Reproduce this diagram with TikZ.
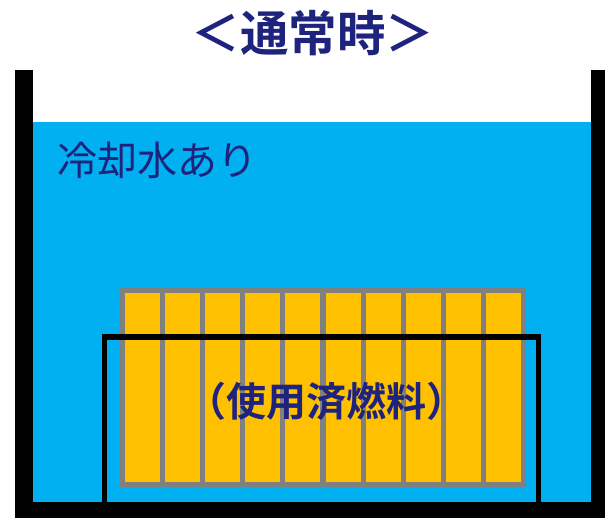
\documentclass[tikz,border=0pt]{standalone}
\usepackage{fontspec}
\setmainfont{Noto Sans CJK JP}
\newfontfamily\jpbold{Noto Sans CJK JP Bold}
\definecolor{water}{RGB}{0,176,240}
\definecolor{fuel}{RGB}{255,192,0}
\definecolor{rackgray}{RGB}{128,128,128}
\definecolor{navy}{RGB}{30,35,125}
\begin{document}
\begin{tikzpicture}[x=1pt,y=-1pt,
  label/.style={text=navy,inner sep=0pt,anchor=center},
  wall/.style={fill=black},
  cell/.style={fill=fuel}]
\useasboundingbox (0,0) rectangle (605,518);
% water
\fill[water] (33,122) rectangle (591,502);
% walls
\fill[wall] (15,70) rectangle (33,518);
\fill[wall] (591,70) rectangle (605,518);
\fill[wall] (15,502) rectangle (605,518);
% rack
\fill[rackgray] (120,288) rectangle (526,487);
\foreach \i in {0,...,9}{
  \fill[cell] ({125+40.1*\i},293) rectangle ({160+40.1*\i},482);
}
% basket frame
\draw[line width=5.5pt,line join=miter] (104.5,503) -- (104.5,337) -- (538.5,337) -- (538.5,503);
% texts
\node[label,font=\jpbold\fontsize{48.5}{52}\selectfont] (title) at (313,33) {＜通常時＞};
\node[label,font=\fontsize{40}{44}\selectfont] (water) at (157,160) {冷却水あり};
\node[label,font=\jpbold\fontsize{40}{44}\selectfont] (fuel) at (326,401) {（使用済燃料）};
\end{tikzpicture}
\end{document}
